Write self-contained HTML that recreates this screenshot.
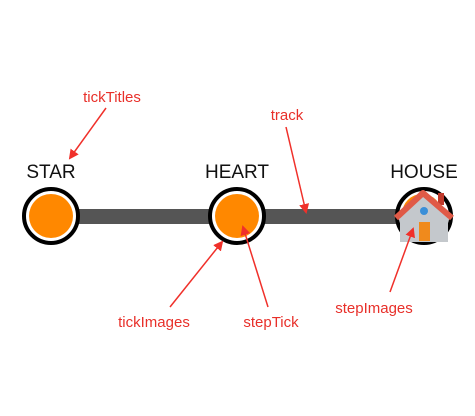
<!DOCTYPE html>
<html><head><style>
body{margin:0;width:475px;height:416px;background:#fff;overflow:hidden}
svg{display:block}
.t{font-family:"Liberation Sans",sans-serif;font-size:19px;fill:#111;text-anchor:middle}
.a{font-family:"Liberation Sans",sans-serif;font-size:15px;fill:#e8302a;text-anchor:middle}
</style></head><body>
<svg width="475" height="416" viewBox="0 0 475 416">
<defs><marker id="m" markerWidth="10" markerHeight="10" refX="8" refY="5" orient="auto" markerUnits="userSpaceOnUse"><path d="M0,0 L10,5 L0,10 z" fill="#f0302a"/></marker></defs>
<rect x="75" y="209" width="330" height="15" fill="#555"/>
<g>
<circle cx="51" cy="216" r="27" fill="#fff" stroke="#000" stroke-width="4"/>
<circle cx="51" cy="216" r="22" fill="#ff8800"/>
<circle cx="237" cy="216" r="27" fill="#fff" stroke="#000" stroke-width="4"/>
<circle cx="237" cy="216" r="22" fill="#ff8800"/>
<circle cx="424" cy="216" r="27" fill="#fff" stroke="#000" stroke-width="4"/>
<circle cx="422" cy="214" r="20" fill="#ff8800"/>
</g>
<g>
<polygon points="400,212 423,190 448,212 448,242 400,242" fill="#c4c8cc"/>
<rect x="438" y="193" width="6" height="12" fill="#c0392b"/>
<polyline points="396,218 423,193 452,218" fill="none" stroke="#e05a47" stroke-width="6" stroke-linejoin="round"/>
<circle cx="424" cy="211" r="4" fill="#3a8fd8"/>
<rect x="419" y="222" width="11" height="19" fill="#f08a1c"/>
</g>
<text class="t" x="51" y="178">STAR</text>
<text class="t" x="237" y="178">HEART</text>
<text class="t" x="424" y="178">HOUSE</text>
<g stroke="#f0302a" stroke-width="1.5" fill="none" marker-end="url(#m)">
<line x1="106" y1="108" x2="70" y2="158"/>
<line x1="286" y1="127" x2="306" y2="212"/>
<line x1="170" y1="307" x2="222" y2="242"/>
<line x1="268" y1="307" x2="243" y2="227"/>
<line x1="390" y1="292" x2="413" y2="229"/>
</g>
<text class="a" x="112" y="102">tickTitles</text>
<text class="a" x="287" y="120">track</text>
<text class="a" x="154" y="327">tickImages</text>
<text class="a" x="271" y="327">stepTick</text>
<text class="a" x="374" y="313">stepImages</text>
</svg>
</body></html>
